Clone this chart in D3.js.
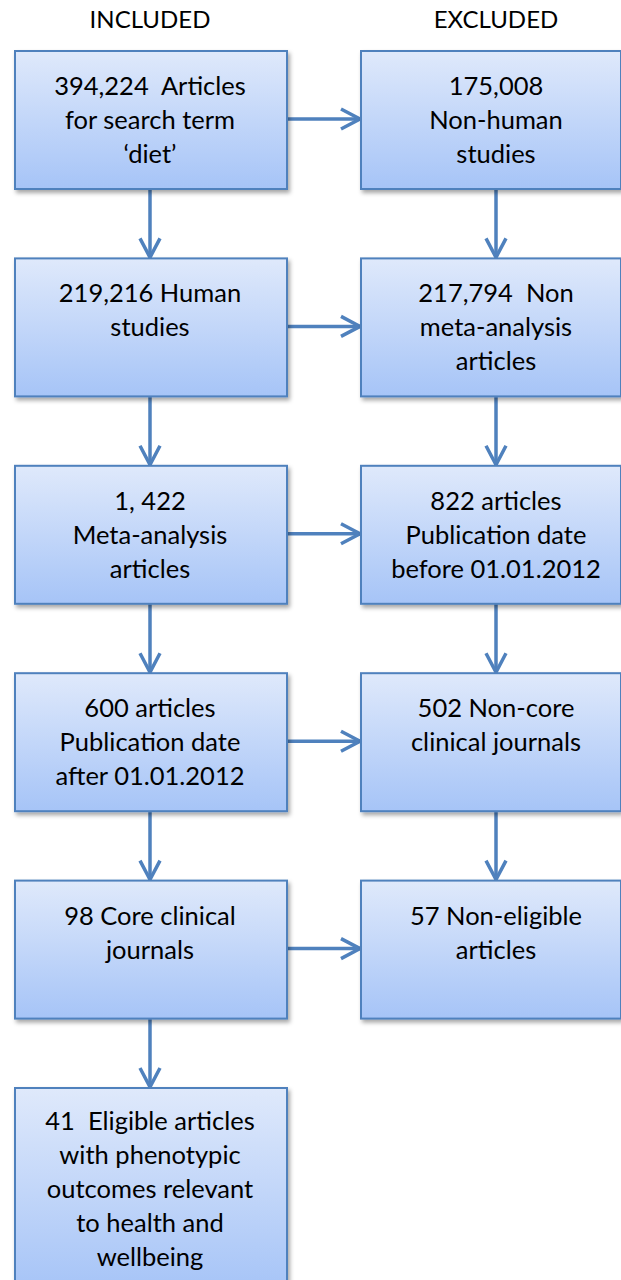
<!DOCTYPE html>
<html><head><meta charset="utf-8">
<script src="https://cdn.jsdelivr.net/npm/d3@7"></script>
<style>html,body{margin:0;padding:0;background:#fff;overflow:hidden}svg{display:block}</style>
</head><body>
<script>
// Data
const headers = ["INCLUDED", "EXCLUDED"];
const included = [
  ["394,224  Articles", "for search term", "\u2018diet\u2019"],
  ["219,216 Human", "studies", ""],
  ["1, 422", "Meta-analysis", "articles"],
  ["600 articles", "Publication date", "after 01.01.2012"],
  ["98 Core clinical", "journals", ""],
  ["41  Eligible articles", "with phenotypic", "outcomes relevant", "to health and", "wellbeing"]
];
const excluded = [
  ["175,008", "Non-human", "studies"],
  ["217,794  Non", "meta-analysis", "articles"],
  ["822 articles", "Publication date", "before 01.01.2012"],
  ["502 Non-core", "clinical journals", ""],
  ["57 Non-eligible", "articles", ""]
];

const W = 621, H = 1280;
const svg = d3.select("body").append("svg").attr("width", W).attr("height", H);
const defs = svg.append("defs");
const grad = defs.append("linearGradient").attr("id", "g").attr("x1", 0).attr("y1", 0).attr("x2", 0).attr("y2", 1);
grad.append("stop").attr("offset", "0%").attr("stop-color", "#dfe9fb");
grad.append("stop").attr("offset", "100%").attr("stop-color", "#a6c4f7");
const f = defs.append("filter").attr("id", "sh").attr("x", "-10%").attr("y", "-10%").attr("width", "130%").attr("height", "130%");
f.append("feDropShadow").attr("dx", 2).attr("dy", 3).attr("stdDeviation", 2.2).attr("flood-color", "#000").attr("flood-opacity", 0.35);

const colX = d3.scaleOrdinal().domain([0, 1]).range([15, 361]);
const colW = d3.scaleOrdinal().domain([0, 1]).range([272, 260]);
const centerOff = 135;
const rowY = d3.scaleLinear().domain([0, 1]).range([51, 258.4]);
const boxH = 138, lastH = 202, lineH = 34;
const FONT = "Lato, 'Open Sans', sans-serif";
const blue = "#4f81bd";

// Headers
svg.selectAll("text.hdr").data(headers).enter().append("text")
  .attr("class", "hdr")
  .attr("x", (d, i) => colX(i) + centerOff)
  .attr("y", 28)
  .attr("text-anchor", "middle")
  .attr("font-family", FONT).attr("font-size", 24).attr("fill", "#000")
  .text(d => d);

const boxes = [];
included.forEach((lines, r) => boxes.push({ col: 0, row: r, lines, h: r === included.length - 1 ? lastH : boxH }));
excluded.forEach((lines, r) => boxes.push({ col: 1, row: r, lines, h: boxH }));

// Arrows
const arrows = [];
for (let r = 0; r < included.length - 1; r++) arrows.push({ type: "v", col: 0, row: r });
for (let r = 0; r < excluded.length - 1; r++) arrows.push({ type: "v", col: 1, row: r });
for (let r = 0; r < excluded.length; r++) arrows.push({ type: "h", row: r });

const ag = svg.append("g").attr("stroke", blue).attr("stroke-width", 3.5).attr("fill", "none").attr("stroke-linecap", "butt");
arrows.forEach(a => {
  let x1, y1, x2, y2, p;
  if (a.type === "v") {
    const cx = colX(a.col) + centerOff;
    x1 = cx; y1 = rowY(a.row) + boxH; x2 = cx; y2 = rowY(a.row + 1) - 1;
    p = [[cx - 10, y2 - 19], [cx, y2], [cx + 10, y2 - 19]];
  } else {
    const cy = rowY(a.row) + boxH / 2 - 1;
    x1 = colX(0) + colW(0); x2 = colX(1) - 1; y1 = cy; y2 = cy;
    p = [[x2 - 19, cy - 10], [x2, cy], [x2 - 19, cy + 10]];
  }
  ag.append("line").attr("x1", x1).attr("y1", y1).attr("x2", x2).attr("y2", y2);
  ag.append("path").attr("d", d3.line()(p)).attr("stroke-linejoin", "miter");
});

// Boxes
const bg = svg.selectAll("g.box").data(boxes).enter().append("g").attr("class", "box");
bg.append("rect")
  .attr("x", d => colX(d.col)).attr("y", d => rowY(d.row))
  .attr("width", d => colW(d.col)).attr("height", d => d.h)
  .attr("fill", "url(#g)").attr("stroke", blue).attr("stroke-width", 2)
  .attr("filter", "url(#sh)");
bg.each(function (d) {
  const g = d3.select(this);
  const cx = colX(d.col) + centerOff;
  const cy = rowY(d.row) + d.h / 2;
  const n = d.lines.length;
  d.lines.forEach((t, i) => {
    g.append("text")
      .attr("x", cx)
      .attr("y", cy + (i - (n - 1) / 2) * lineH + 9)
      .attr("text-anchor", "middle")
      .attr("font-family", FONT).attr("font-size", 25.5).attr("fill", "#000")
      .style("white-space", "pre")
      .text(t);
  });
});
</script>
</body></html>
